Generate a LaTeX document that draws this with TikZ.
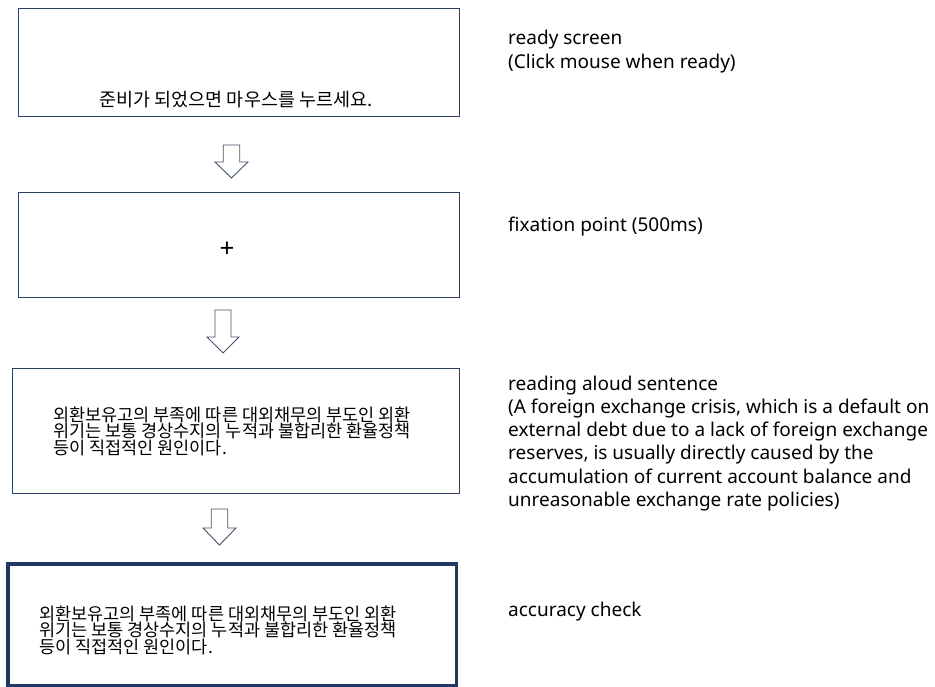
\documentclass[tikz,border=0pt]{standalone}
\usepackage{fontspec}
\setmainfont{Noto Sans}
\newfontfamily\kor{Noto Sans CJK KR}
\definecolor{boxc}{RGB}{47,64,104}
\definecolor{navyc}{RGB}{31,56,100}
\definecolor{arrc}{RGB}{68,84,106}
\newcommand\blkarrow[5]{% cx, top, headtop, tip, half width
  \draw[blockarrow] ({#1-#5/2},#2) -- ({#1+#5/2},#2) -- ({#1+#5/2},#3) -- ({#1+#5},#3)
    -- (#1,#4) -- ({#1-#5},#3) -- ({#1-#5/2},#3) -- cycle;}
\begin{document}
\begin{tikzpicture}[x=1pt,y=-1pt,
  thinbox/.style={draw=boxc, line width=1pt, rectangle, anchor=north west, inner sep=0pt},
  thickbox/.style={draw=navyc, line width=3.5pt, rectangle, anchor=north west, inner sep=0pt},
  blockarrow/.style={draw=arrc, line width=0.9pt, fill=white, line join=miter},
  kortext/.style={font=\kor\fontsize{17.5}{16.7}\selectfont, align=left, inner sep=0pt, anchor=base west},
  entext/.style={font=\fontsize{19}{23.3}\selectfont, align=left, inner sep=0pt, anchor=base west}]
\useasboundingbox (0,0) rectangle (935,687);
% boxes
\node[thinbox, minimum width=441pt, minimum height=108pt] (b1) at (18,8) {};
\node[thinbox, minimum width=441pt, minimum height=105pt] (b2) at (18,192) {};
\node[thinbox, minimum width=447pt, minimum height=125pt] (b3) at (12,368) {};
\node[thickbox, minimum width=448.5pt, minimum height=122pt] (b4) at (6,562) {};
% block arrows
\blkarrow{231.5}{145}{162}{178}{16.5}
\blkarrow{223}{310}{337}{353}{16}
\blkarrow{219.5}{509}{528}{545}{16.5}
% box texts
\node[kortext, font=\kor\fontsize{18.5}{18.5}\selectfont, anchor=base] (t1) at (236,107) {준비가 되었으면 마우스를 누르세요.};
\node[font=\fontsize{26}{26}\selectfont, inner sep=0pt] (t2) at (227,250) {+};
\node[kortext] (t3) at (53,454.4) {외환보유고의 부족에 따른 대외채무의 부도인 외환\\위기는 보통 경상수지의 누적과 불합리한 환율정책\\등이 직접적인 원인이다.};
\node[kortext] (t4) at (39,653.4) {외환보유고의 부족에 따른 대외채무의 부도인 외환\\위기는 보통 경상수지의 누적과 불합리한 환율정책\\등이 직접적인 원인이다.};
% descriptions
\node[entext] (d1) at (508,68.3) {ready screen\\(Click mouse when ready)};
\node[entext] (d2) at (508,232) {fixation point (500ms)};
\node[entext] (d3) at (508,506.5) {reading aloud sentence\\(A foreign exchange crisis, which is a default on\\external debt due to a lack of foreign exchange\\reserves, is usually directly caused by the\\accumulation of current account balance and\\unreasonable exchange rate policies)};
\node[entext] (d4) at (508,616) {accuracy check};
\end{tikzpicture}
\end{document}
